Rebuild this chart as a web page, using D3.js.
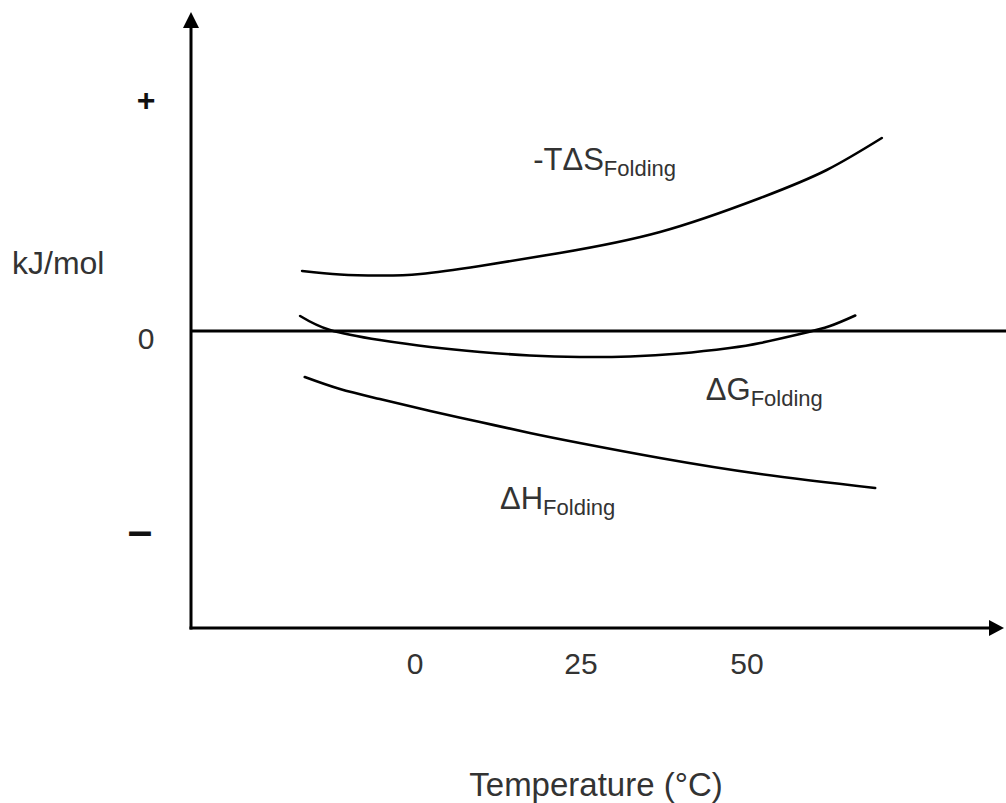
<!DOCTYPE html>
<html>
<head>
<meta charset="utf-8">
<script src="https://cdn.jsdelivr.net/npm/d3@7"></script>
<style>
  html, body { margin: 0; padding: 0; background: #fff; }
  svg { display: block; }
  text { font-family: "Liberation Sans", Arial, sans-serif; fill: #333; }
</style>
</head>
<body>
<svg id="chart" width="1006" height="803"></svg>
<script>
// ---- data (temperature in °C, energy in arbitrary kJ/mol units) ----
const xTickLabels = [0, 25, 50];
const yTickLabels = ["+", "0", "\u2013"];
const yTickValues = [2.32, -0.07, -1.99];

const tdsTemp   = [-17.0, -11.3, -5.3, 0.8, 9.8, 21.8, 36.9, 52.0, 62.0, 70.3];
const tdsValue  = [0.60, 0.565, 0.555, 0.57, 0.65, 0.78, 0.99, 1.33, 1.61, 1.93];

const dgTemp    = [-17.3, -12.8, -5.3, 2.3, 9.8, 17.3, 24.8, 32.4, 39.9, 47.4, 52.0, 58.0, 62.5, 66.3];
const dgValue   = [0.15, 0.01, -0.09, -0.16, -0.21, -0.245, -0.26, -0.255, -0.225, -0.17, -0.12, -0.03, 0.05, 0.155];

const dhTemp    = [-16.6, -11.3, -5.3, 2.3, 9.8, 17.3, 24.8, 36.9, 52.0, 69.3];
const dhValue   = [-0.46, -0.58, -0.68, -0.80, -0.91, -1.02, -1.12, -1.27, -1.43, -1.57];

const seriesLabels = [
  { main: "-T\u0394S", sub: "Folding", t: 17.8, v: 1.61 },
  { main: "\u0394G",   sub: "Folding", t: 43.8, v: -0.69 },
  { main: "\u0394H",   sub: "Folding", t: 12.8, v: -1.78 }
];

// ---- scales ----
const x = d3.scaleLinear().domain([0, 50]).range([415, 747]);
const y = d3.scaleLinear().domain([0, 1]).range([331, 231]);

const svg = d3.select("#chart");

// axes
const axisX0 = 191, axisYBottom = 628, axisYTop = 12, axisXRight = 1004;
svg.append("line").attr("x1", axisX0).attr("x2", axisX0)
  .attr("y1", axisYTop + 14).attr("y2", axisYBottom + 1.5)
  .attr("stroke", "#000").attr("stroke-width", 3);
svg.append("path")
  .attr("d", `M${axisX0},${axisYTop} L${axisX0 - 8},${axisYTop + 16} L${axisX0 + 8},${axisYTop + 16} Z`)
  .attr("fill", "#000");
svg.append("line").attr("x1", axisX0 - 1.5).attr("x2", axisXRight - 12)
  .attr("y1", axisYBottom).attr("y2", axisYBottom)
  .attr("stroke", "#000").attr("stroke-width", 3);
svg.append("path")
  .attr("d", `M${axisXRight},${axisYBottom} L${axisXRight - 15},${axisYBottom - 8} L${axisXRight - 15},${axisYBottom + 8} Z`)
  .attr("fill", "#000");
// zero line
svg.append("line").attr("x1", axisX0).attr("x2", 1006)
  .attr("y1", y(0)).attr("y2", y(0))
  .attr("stroke", "#000").attr("stroke-width", 3);

// x tick labels
svg.append("g").selectAll("text").data(xTickLabels).join("text")
  .attr("x", d => x(d)).attr("y", 674)
  .attr("text-anchor", "middle").attr("font-size", 30)
  .text(d => d);

// y tick labels
svg.append("g").selectAll("text").data(yTickLabels).join("text")
  .attr("x", (d, i) => i === 2 ? 140 : 146)
  .attr("y", (d, i) => y(yTickValues[i]))
  .attr("dy", "0.36em")
  .attr("text-anchor", "middle")
  .attr("font-size", (d, i) => i === 0 ? 32 : (i === 2 ? 44 : 30))
  .attr("font-weight", (d, i) => i === 1 ? "normal" : "bold")
  .style("fill", (d, i) => i === 1 ? "#333" : "#111")
  .text(d => d);

// axis titles
svg.append("text").attr("x", 12).attr("y", 274).attr("font-size", 32).text("kJ/mol");
svg.append("text").attr("x", 596).attr("y", 796).attr("text-anchor", "middle")
  .attr("font-size", 33).text("Temperature (\u00B0C)");

// curves
const line = d3.line().x(d => x(d[0])).y(d => y(d[1])).curve(d3.curveNatural);
const curves = [
  d3.zip(tdsTemp, tdsValue),
  d3.zip(dgTemp, dgValue),
  d3.zip(dhTemp, dhValue)
];
svg.append("g").selectAll("path").data(curves).join("path")
  .attr("d", line)
  .attr("fill", "none").attr("stroke", "#000").attr("stroke-width", 2.6)
  .attr("stroke-linecap", "round");

// series labels
const lbl = svg.append("g").selectAll("text").data(seriesLabels).join("text")
  .attr("x", d => x(d.t)).attr("y", d => y(d.v))
  .attr("font-size", 31);
lbl.append("tspan").text(d => d.main);
lbl.append("tspan").attr("font-size", 22).attr("dy", 6).text(d => d.sub);
</script>
</body>
</html>
